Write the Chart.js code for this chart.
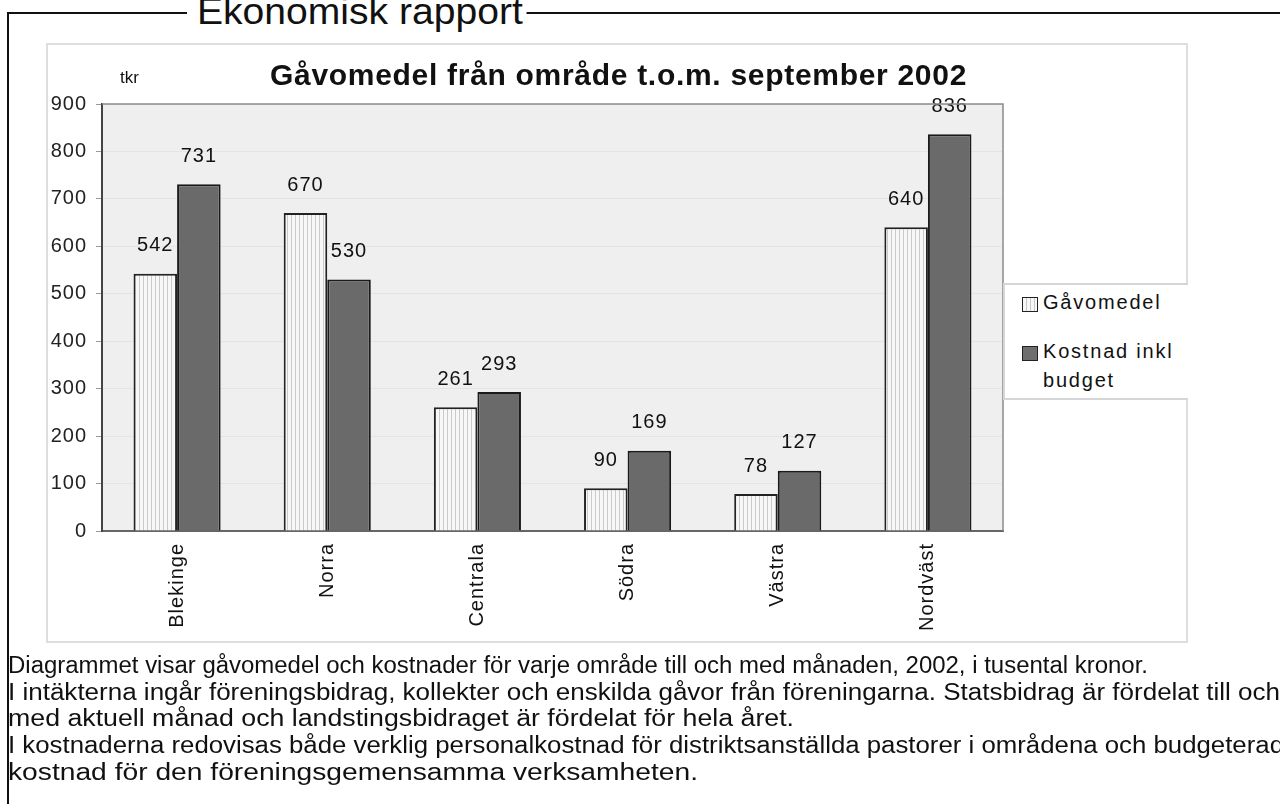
<!DOCTYPE html>
<html>
<head>
<meta charset="utf-8">
<script src="https://cdn.jsdelivr.net/npm/chart.js@4"></script>
<style>
  body { margin: 0; width: 1280px; height: 804px; overflow: hidden; background: #fff; position: relative;
         font-family: "Liberation Sans", Arial, sans-serif; color: #111; }
  #frameV { position: absolute; left: 7px; top: 12px; width: 2px; height: 800px; background: #111; }
  .frameH { position: absolute; top: 12px; height: 2px; background: #111; }
  #heading { position: absolute; left: 197px; top: -9px; font-size: 37px; white-space: nowrap;
             transform-origin: 0 0; background: #fff; padding-right: 4px; }
  #box { position: absolute; left: 46px; top: 43px; width: 1142px; height: 600px; border: 2px solid #dedede; box-sizing: border-box; }
  canvas { position: absolute; left: 0; top: 0; }
  #title { position: absolute; left: 270px; top: 58px; font-weight: bold; font-size: 30px; letter-spacing: 0.7px; white-space: nowrap; }
  #tkr { position: absolute; left: 120px; top: 68px; font-size: 17px; }
  #legend { position: absolute; left: 1003px; top: 283px; width: 185px; height: 117px; background: #fff;
            border-top: 2px solid #d6d6d6; border-bottom: 2px solid #d6d6d6; border-left: 2px solid #d6d6d6; box-sizing: border-box;
            font-size: 20px; letter-spacing: 1.8px; }
  .item { position: absolute; left: 38px; line-height: 29px; white-space: nowrap; }
  .mark { position: absolute; width: 14px; height: 13px; border: 1.5px solid #222; }
  #m1 { left: 17px; top: 12px; background: repeating-linear-gradient(90deg, #f7f7f7 0 3px, #c8c8c8 3px 4px); }
  #m2 { left: 17px; top: 61px; background: #6e6e6e; }
  #notes { position: absolute; left: 8px; top: 652px; width: 1272px; height: 152px; overflow: hidden; font-size: 23px; }
  .line { display: block; width: max-content; height: 26.7px; line-height: 26.7px; white-space: nowrap; transform-origin: 0 50%; }
</style>
</head>
<body>
<div id="frameV"></div>
<div class="frameH" style="left:7px;width:180px"></div>
<div class="frameH" style="left:520px;width:760px"></div>
<div id="heading">Ekonomisk rapport</div>
<div id="box"></div>
<canvas id="chart" width="1280" height="804"></canvas>
<div id="title">Gåvomedel från område t.o.m. september 2002</div>
<div id="tkr">tkr</div>
<div id="legend">
  <div class="mark" id="m1"></div>
  <div class="item" style="top:3px">Gåvomedel</div>
  <div class="mark" id="m2"></div>
  <div class="item" style="top:52px">Kostnad inkl<br>budget</div>
</div>
<div id="notes">
  <span class="line" data-w="1140">Diagrammet visar gåvomedel och kostnader för varje område till och med månaden, 2002, i tusental kronor.</span>
  <span class="line" data-w="1272">I intäkterna ingår föreningsbidrag, kollekter och enskilda gåvor från föreningarna. Statsbidrag är fördelat till och</span>
  <span class="line" data-w="786">med aktuell månad och landstingsbidraget är fördelat för hela året.</span>
  <span class="line" data-w="1276">I kostnaderna redovisas både verklig personalkostnad för distriktsanställda pastorer i områdena och budgeterad</span>
  <span class="line" data-w="690">kostnad för den föreningsgemensamma verksamheten.</span>
</div>
<script>
const categories = ['Blekinge', 'Norra', 'Centrala', 'Södra', 'Västra', 'Nordväst'];
const gavomedel = [542, 670, 261, 90, 78, 640];
const kostnad = [731, 530, 293, 169, 127, 836];
const yMin = 0;
const yMax = 900;
const yStep = 100;

// squeeze each printed text line to the width it has in the scan
function fitWidth(el, w) {
  const r = el.getBoundingClientRect().width;
  el.style.transform = 'scaleX(' + (w / r) + ')';
}
document.querySelectorAll('.line').forEach(el => fitWidth(el, +el.dataset.w));
fitWidth(document.getElementById('heading'), 330);

// light fill with thin vertical stripes, like the printed hatch
function stripes() {
  const c = document.createElement('canvas');
  c.width = 4; c.height = 4;
  const g = c.getContext('2d');
  g.fillStyle = '#f7f7f7';
  g.fillRect(0, 0, 4, 4);
  g.fillStyle = '#cacaca';
  g.fillRect(3, 0, 1, 4);
  return g.createPattern(c, 'repeat');
}

const plotBack = {
  id: 'plotBack',
  beforeDraw(chart) {
    const { ctx, chartArea: a } = chart;
    ctx.letterSpacing = '1px';
    ctx.save();
    ctx.fillStyle = '#efefef';
    ctx.fillRect(a.left, a.top, a.right - a.left, a.bottom - a.top);
    ctx.restore();
  },
  afterDraw(chart) {
    const { ctx, chartArea: a } = chart;
    ctx.save();
    ctx.strokeStyle = '#8a8a8a';
    ctx.lineWidth = 1.5;
    ctx.beginPath();
    ctx.moveTo(a.left, a.top);
    ctx.lineTo(a.right, a.top);
    ctx.lineTo(a.right, a.bottom);
    ctx.stroke();
    ctx.restore();
  }
};

const valueLabels = {
  id: 'valueLabels',
  afterDatasetsDraw(chart) {
    const ctx = chart.ctx;
    ctx.save();
    ctx.letterSpacing = '1px';
    ctx.font = '20px "Liberation Sans", Arial, sans-serif';
    ctx.fillStyle = '#111';
    ctx.textAlign = 'center';
    ctx.textBaseline = 'bottom';
    chart.data.datasets.forEach((ds, i) => {
      chart.getDatasetMeta(i).data.forEach((bar, j) => {
        ctx.fillText(ds.data[j], bar.x, bar.y - 18);
      });
    });
    ctx.restore();
  }
};

new Chart(document.getElementById('chart'), {
  type: 'bar',
  data: {
    labels: categories,
    datasets: [
      { label: 'Gåvomedel', data: gavomedel, backgroundColor: stripes(), borderColor: '#222', borderWidth: 2 },
      { label: 'Kostnad inkl budget', data: kostnad, backgroundColor: '#6a6a6a', borderColor: '#1a1a1a', borderWidth: 2 }
    ]
  },
  options: {
    responsive: false,
    animation: false,
    events: [],
    layout: { padding: { left: 42, top: 104, right: 277, bottom: 153 } },
    datasets: { bar: { categoryPercentage: 0.58, barPercentage: 1.0 } },
    plugins: { legend: { display: false }, tooltip: { enabled: false } },
    scales: {
      x: {
        grid: { display: false, drawTicks: false },
        border: { color: '#666', width: 2 },
        ticks: { minRotation: 90, maxRotation: 90, padding: 12, color: '#111',
                 font: { family: '"Liberation Sans", Arial, sans-serif', size: 20 } },
        afterFit(s) { s.height = 120; }
      },
      y: {
        min: yMin, max: yMax,
        grid: { color: '#e4e4e4', tickColor: '#999', tickLength: 6 },
        border: { color: '#444', width: 2 },
        ticks: { stepSize: yStep, padding: 9, color: '#222',
                 font: { family: '"Liberation Sans", Arial, sans-serif', size: 20 } },
        afterFit(s) { s.width = 60; }
      }
    }
  },
  plugins: [plotBack, valueLabels]
});
</script>
</body>
</html>
